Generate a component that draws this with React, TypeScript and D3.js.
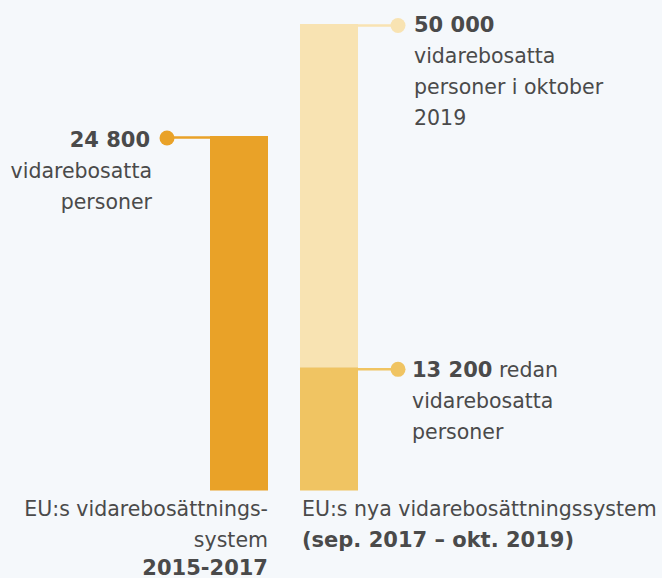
import React from "react";
import * as d3 from "d3";

const W = 662;
const H = 578;

// Data
const categories = ["old", "new"];
const leftValue = 24800;
const rightTotal = 50000;
const rightExisting = 13200;
const leftLabel = ["EU:s vidarebosättnings-", "system"];
const leftLabelBold = "2015-2017";
const rightLabel = "EU:s nya vidarebosättningssystem";
const rightLabelBold = "(sep. 2017 – okt. 2019)";

const fmt = (v: number) => d3.format(",")(v).replace(/,/g, " ");

const FONT = "'DejaVu Sans', sans-serif";
const TEXT = "#4a4a4a";

export default function App() {
  const baseY = 490.5;
  // the original infographic uses separate (non-proportional) scales for each column
  const yLeft = d3.scaleLinear().domain([0, leftValue]).range([baseY, 136]);
  const yRight = d3.scaleLinear().domain([0, rightTotal]).range([baseY, 24]);
  const x = d3.scaleBand().domain(categories).range([165, 403]).paddingInner(0.3556).paddingOuter(0.5);

  const lx = x("old")!;
  const rx = x("new")!;
  const bw = x.bandwidth();

  const leftTop = yLeft(leftValue);
  const rightTop = yRight(rightTotal);
  const rightMid = yRight(rightExisting);

  const fs = 20.5;
  const fb = 21;
  const lh = 31;

  return (
    <svg width={W} height={H} style={{ position: "absolute", left: 0, top: 0, background: "#f5f8fb" }} fontFamily={FONT}>
      <rect x={0} y={0} width={W} height={H} fill="#f5f8fb" />
      {/* bars */}
      <rect x={lx} y={leftTop} width={bw} height={baseY - leftTop} fill="#e9a228" />
      <rect x={rx} y={rightTop} width={bw} height={rightMid - rightTop} fill="#f8e3b2" />
      <rect x={rx} y={rightMid} width={bw} height={baseY - rightMid} fill="#f0c462" />

      {/* left annotation */}
      <line x1={167} x2={lx} y1={leftTop + 1.5} y2={leftTop + 1.5} stroke="#e9a228" strokeWidth={2.5} />
      <circle cx={167} cy={leftTop + 2} r={7.5} fill="#e9a228" />
      <g fill={TEXT} fontSize={fs} textAnchor="end">
        <text x={150} y={leftTop + 11} fontWeight={700} fontSize={fb}>{fmt(leftValue)}</text>
        <text x={152} y={leftTop + 11 + lh}>vidarebosatta</text>
        <text x={152} y={leftTop + 11 + 2 * lh}>personer</text>
      </g>

      {/* right top annotation */}
      <line x1={rx + bw} x2={398} y1={rightTop + 1.5} y2={rightTop + 1.5} stroke="#f8e3b2" strokeWidth={2.5} />
      <circle cx={398} cy={rightTop + 1.5} r={7.5} fill="#f8e3b2" />
      <g fill={TEXT} fontSize={fs}>
        <text x={414} y={rightTop + 8} fontWeight={700} fontSize={fb}>{fmt(rightTotal)}</text>
        <text x={414} y={rightTop + 8 + lh}>vidarebosatta</text>
        <text x={414} y={rightTop + 8 + 2 * lh}>personer i oktober</text>
        <text x={414} y={rightTop + 8 + 3 * lh}>2019</text>
      </g>

      {/* right mid annotation */}
      <line x1={rx + bw} x2={398} y1={rightMid + 2} y2={rightMid + 2} stroke="#f0c462" strokeWidth={2.5} />
      <circle cx={398} cy={rightMid + 2} r={7.5} fill="#f0c462" />
      <g fill={TEXT} fontSize={fs}>
        <text x={412} y={rightMid + 10}>
          <tspan fontWeight={700} fontSize={fb}>{fmt(rightExisting)}</tspan> redan
        </text>
        <text x={412} y={rightMid + 10 + lh}>vidarebosatta</text>
        <text x={412} y={rightMid + 10 + 2 * lh}>personer</text>
      </g>

      {/* category labels */}
      <g fill={TEXT} fontSize={fs} textAnchor="end">
        <text x={lx + bw} y={516}>{leftLabel[0]}</text>
        <text x={lx + bw} y={547}>{leftLabel[1]}</text>
        <text x={lx + bw} y={575} fontWeight={700} fontSize={fb}>{leftLabelBold}</text>
      </g>
      <g fill={TEXT} fontSize={fs}>
        <text x={302} y={516}>{rightLabel}</text>
        <text x={302} y={547} fontWeight={700} fontSize={fb}>{rightLabelBold}</text>
      </g>
    </svg>
  );
}
